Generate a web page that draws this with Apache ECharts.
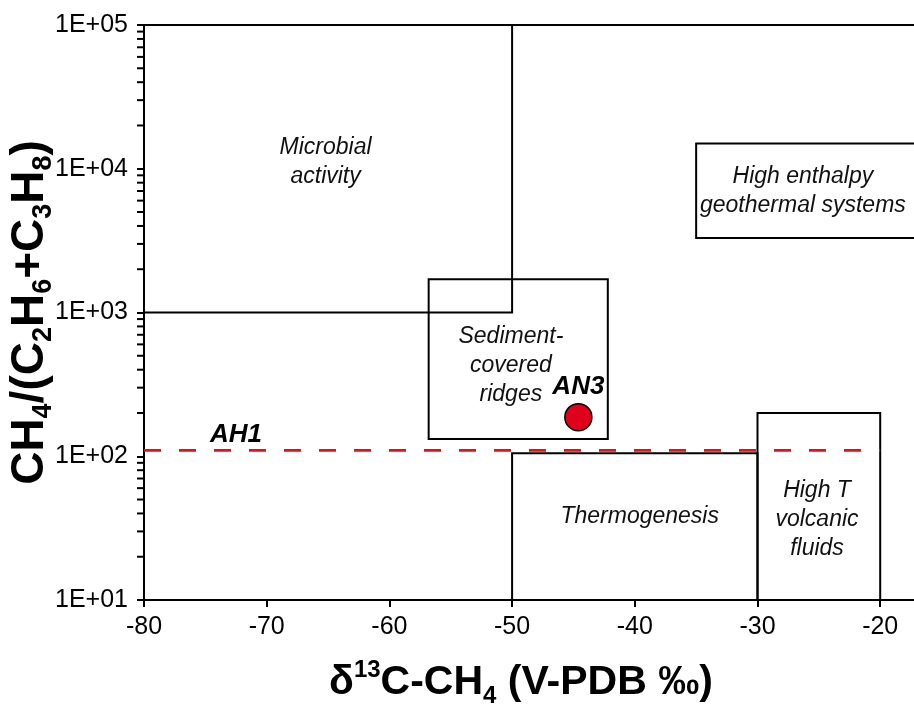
<!DOCTYPE html>
<html>
<head>
<meta charset="utf-8">
<script src="https://cdn.jsdelivr.net/npm/echarts@6/dist/echarts.min.js"></script>
<style>html,body{margin:0;padding:0;background:#fff}#c{width:914px;height:705px}</style>
</head>
<body>
<div id="c"></div>
<script>
// ---- data ----
const xTickValues = [-80, -70, -60, -50, -40, -30, -20];
const yTickValues = [10, 100, 1000, 10000, 100000];
const yTickLabels = ['1E+01', '1E+02', '1E+03', '1E+04', '1E+05'];
const yMinorMultipliers = [2, 3, 4, 5, 6, 7, 8, 9];
// fields: [x0, x1, y0, y1]
const boxMicrobial = [-80, -50, 1000, 100000];
const boxSediment = [-56.8, -42.2, 132, 1700];
const boxThermogenesis = [-50, -30, 10, 105];
const boxHighT = [-30, -20, 10, 200];
const boxHighEnthalpy = [-35, -12, 3300, 15000];
const ah1Line = [[-80, 110], [-20, 110]];
const an3Point = [[-44.6, 187]];
const regionLabels = [
  [-65.2, 11100, 'Microbial\nactivity'],
  [-26.3, 7000, 'High enthalpy\ngeothermal systems'],
  [-50.1, 424, 'Sediment-\ncovered\nridges'],
  [-39.6, 38, 'Thermogenesis'],
  [-25.15, 36, 'High T\nvolcanic\nfluids']
];
const sampleLabels = [
  [-44.6, 303, 'AN3'],
  [-72.5, 141, 'AH1']
];

// ---- chart ----
const FONT = 'Liberation Sans, Arial, sans-serif';
const boxes = [boxMicrobial, boxSediment, boxThermogenesis, boxHighT, boxHighEnthalpy];
const minorData = [];
for (let i = 0; i < yTickValues.length - 1; i++) {
  yMinorMultipliers.forEach(m => minorData.push([xTickValues[0], yTickValues[i] * m]));
}
const chart = echarts.init(document.getElementById('c'), null, {renderer: 'canvas'});
chart.setOption({
  animation: false,
  grid: {left: 144, top: 25, height: 575, width: 66 * 12.27, show: true, borderColor: '#000', borderWidth: 2,
    containLabel: false, outerBoundsMode: 'none'},
  xAxis: {
    type: 'value', min: -80, max: -14, interval: 10,
    axisLine: {show: true, lineStyle: {color: '#000', width: 2}},
    axisTick: {show: true, inside: false, length: 7, lineStyle: {color: '#000', width: 2}},
    axisLabel: {fontSize: 25, fontFamily: FONT, color: '#000', margin: 15, showMaxLabel: false,
      formatter: v => xTickValues.indexOf(v) >= 0 ? String(v) : ''},
    splitLine: {show: false},
    name: '{m|δ}{sup|13}{m|C-CH}{sub|4}{m| (V-PDB ‰)}',
    nameLocation: 'middle', nameGap: 58, nameMoveOverlap: false,
    nameTextStyle: {
      padding: [0, 56, 0, 0],
      rich: {
        m: {fontSize: 41, fontWeight: 'bold', fontFamily: FONT, color: '#000', lineHeight: 50},
        sub: {fontSize: 24, fontWeight: 'bold', fontFamily: FONT, color: '#000', lineHeight: 24, verticalAlign: 'bottom'},
        sup: {fontSize: 24, fontWeight: 'bold', fontFamily: FONT, color: '#000', lineHeight: 24, verticalAlign: 'top'}
      }
    }
  },
  yAxis: {
    type: 'log', logBase: 10, min: 10, max: 100000,
    axisLine: {show: true, lineStyle: {color: '#000', width: 2}},
    axisTick: {show: true, inside: false, length: 7, lineStyle: {color: '#000', width: 2}},
    axisLabel: {fontSize: 25, fontFamily: FONT, color: '#000', margin: 16,
      formatter: v => { const i = yTickValues.findIndex(t => Math.abs(t - v) / t < 1e-6); return i >= 0 ? yTickLabels[i] : ''; }},
    splitLine: {show: false},
    name: '{m|CH}{sub|4}{m|/(C}{sub|2}{m|H}{sub|6}{m|+C}{sub|3}{m|H}{sub|8}{m|)}',
    nameLocation: 'middle', nameRotate: 90, nameGap: 87, nameMoveOverlap: false,
    nameTextStyle: {
      rich: {
        m: {fontSize: 46, fontWeight: 'bold', fontFamily: FONT, color: '#000', lineHeight: 54},
        sub: {fontSize: 27, fontWeight: 'bold', fontFamily: FONT, color: '#000', lineHeight: 27, verticalAlign: 'bottom'}
      }
    }
  },
  series: [
    {
      type: 'custom', coordinateSystem: 'cartesian2d', silent: true, clip: true,
      data: boxes,
      encode: {x: [0, 1], y: [2, 3]},
      renderItem: (params, api) => {
        const p0 = api.coord([api.value(0), api.value(3)]);
        const p1 = api.coord([api.value(1), api.value(2)]);
        return {type: 'rect', shape: {x: p0[0], y: p0[1], width: p1[0] - p0[0], height: p1[1] - p0[1]},
          style: {fill: 'none', stroke: '#000', lineWidth: 2}};
      },
      z: 3
    },
    {
      type: 'custom', coordinateSystem: 'cartesian2d', silent: true, clip: false,
      data: minorData,
      encode: {x: 0, y: 1},
      renderItem: (params, api) => {
        const p = api.coord([api.value(0), api.value(1)]);
        return {type: 'line', shape: {x1: p[0] - 7, y1: p[1], x2: p[0], y2: p[1]},
          style: {stroke: '#000', lineWidth: 2}};
      },
      z: 3
    },
    {
      type: 'line', data: ah1Line, symbol: 'none', silent: true,
      lineStyle: {color: '#e3101a', width: 2.7, type: [17, 18]}, z: 4
    },
    {
      type: 'scatter', data: an3Point, symbol: 'circle', symbolSize: 27,
      itemStyle: {color: '#e0001b', borderColor: '#000', borderWidth: 1.5, opacity: 1}, z: 6
    },
    {
      type: 'scatter', data: regionLabels, symbolSize: 0, silent: true,
      itemStyle: {opacity: 1},
      label: {show: true, position: 'inside', formatter: p => p.value[2], opacity: 1,
        fontSize: 23, fontStyle: 'italic', fontFamily: FONT, color: '#111', lineHeight: 29, align: 'center'},
      z: 5
    },
    {
      type: 'scatter', data: sampleLabels, symbolSize: 0, silent: true,
      itemStyle: {opacity: 1},
      label: {show: true, position: 'inside', formatter: p => p.value[2], opacity: 1,
        fontSize: 26, fontStyle: 'italic', fontWeight: 'bold', fontFamily: FONT, color: '#000'},
      z: 5
    }
  ]
});
</script>
</body>
</html>
